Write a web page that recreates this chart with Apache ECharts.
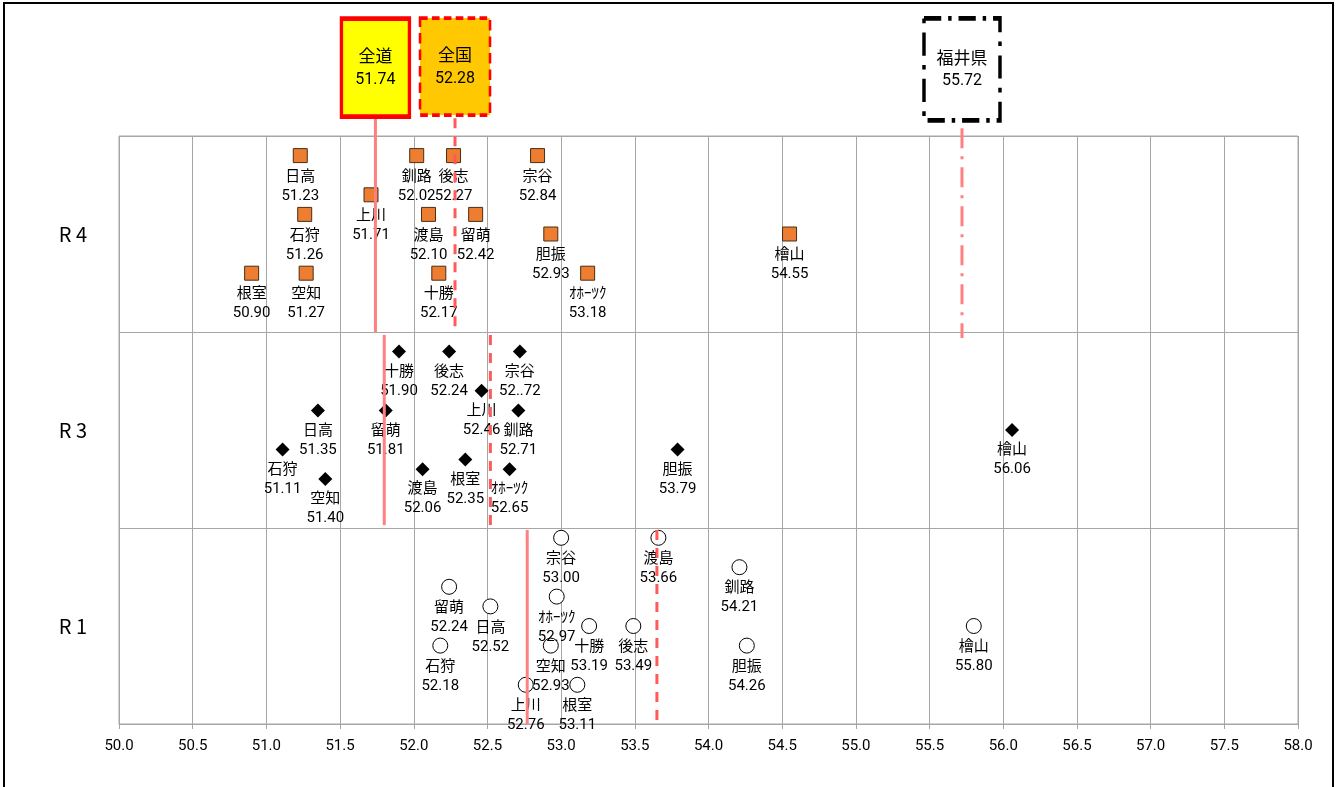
<!DOCTYPE html>
<html>
<head>
<meta charset="utf-8">
<script src="https://cdn.jsdelivr.net/npm/echarts@6/dist/echarts.min.js"></script>
<style>
  html, body { margin: 0; padding: 0; background: #fff; }
  #chart { width: 1338px; height: 787px; }
</style>
</head>
<body>
<div id="chart"></div>
<script>
// Band labels on the vertical axis (bottom to top)
const bandLabels = ['R 1', 'R 3', 'R 4'];

// X axis range / tick labels
const xMin = 50.0, xMax = 58.0, xStep = 0.5;

// R4 (2022) — subprefecture scores and their vertical slot inside the band
const r4Names  = ['日高', '釧路', '後志', '宗谷', '上川', '石狩', '渡島', '留萌', '檜山', '胆振', '根室', '空知', '十勝', 'ｵﾎｰﾂｸ'];
const r4Values = [51.23, 52.02, 52.27, 52.84, 51.71, 51.26, 52.10, 52.42, 54.55, 52.93, 50.90, 51.27, 52.17, 53.18];
const r4Rows   = [2.90, 2.90, 2.90, 2.90, 2.70, 2.60, 2.60, 2.60, 2.50, 2.50, 2.30, 2.30, 2.30, 2.30];

// R3 (2021)
const r3Names  = ['十勝', '後志', '宗谷', '上川', '日高', '留萌', '釧路', '檜山', '石狩', '胆振', '根室', '渡島', 'ｵﾎｰﾂｸ', '空知'];
const r3Values = [51.90, 52.24, 52.72, 52.46, 51.35, 51.81, 52.71, 56.06, 51.11, 53.79, 52.35, 52.06, 52.65, 51.40];
const r3Rows   = [1.90, 1.90, 1.90, 1.70, 1.60, 1.60, 1.60, 1.50, 1.40, 1.40, 1.35, 1.30, 1.30, 1.25];
const r3ValueText = { '宗谷': '52..72' };

// R1 (2019)
const r1Names  = ['宗谷', '渡島', '釧路', '留萌', 'ｵﾎｰﾂｸ', '日高', '十勝', '後志', '檜山', '石狩', '空知', '胆振', '上川', '根室'];
const r1Values = [53.00, 53.66, 54.21, 52.24, 52.97, 52.52, 53.19, 53.49, 55.80, 52.18, 52.93, 54.26, 52.76, 53.11];
const r1Rows   = [0.95, 0.95, 0.80, 0.70, 0.65, 0.60, 0.50, 0.50, 0.50, 0.40, 0.40, 0.40, 0.20, 0.20];

// Reference averages per year: Hokkaido (全道) and national (全国)
const hokkaidoAvg = { R4: 51.74, R3: 51.80, R1: 52.77 };
const nationalAvg = { R4: 52.28, R3: 52.52, R1: 53.65 };
const fukuiValue = 55.72;

const FONT = '"Noto Sans CJK JP", "Noto Sans", sans-serif';
const NUM_FONT = 'Roboto, "Noto Sans CJK JP", sans-serif';

function points(names, values, rows) {
  return names.map((n, i) => ({ name: n, value: [values[i], rows[i]] }));
}

function pointLabel(distance, overrides) {
  return {
    show: true,
    position: 'bottom',
    distance: distance,
    fontFamily: FONT,
    color: '#000',
    formatter: p => {
      const txt = (overrides && overrides[p.name]) || p.value[0].toFixed(2);
      return '{n|' + p.name + '}\n{v|' + txt + '}';
    },
    rich: {
      n: { fontSize: 15, lineHeight: 21, fontFamily: FONT, color: '#000' },
      v: { fontSize: 15, lineHeight: 21, fontFamily: NUM_FONT, color: '#000' }
    }
  };
}

function vLine(x, yTop, yBottom, color, type, width) {
  return {
    type: 'line',
    yAxisIndex: 1,
    clip: false,
    silent: true,
    symbol: 'none',
    z: 5,
    lineStyle: { color: color, type: type, width: width || 3, opacity: 1 },
    data: [[x, yTop], [x, yBottom]]
  };
}

function box(name, value, y, fill, border, borderType, borderWidth, size) {
  return {
    type: 'scatter',
    yAxisIndex: 1,
    clip: false,
    silent: true,
    z: 6,
    symbol: 'rect',
    symbolSize: size,
    itemStyle: { color: fill, opacity: 1, borderColor: border, borderWidth: borderWidth, borderType: borderType },
    label: {
      show: true,
      position: 'inside',
      formatter: '{n|' + name + '}\n{v|' + value.toFixed(2) + '}',
      rich: {
        n: { fontSize: 17, lineHeight: 24, fontFamily: FONT, color: '#000' },
        v: { fontSize: 16, lineHeight: 24, fontFamily: NUM_FONT, color: '#000' }
      }
    },
    data: [[value, y]]
  };
}

const solidRed = '#FF8080';
const dashRed = '#FF5A5A';

const option = {
  animation: false,
  backgroundColor: '#fff',
  grid: {
    left: 119, right: 40, top: 136, bottom: 63,
    show: true, borderColor: '#A6A6A6', borderWidth: 1
  },
  xAxis: {
    type: 'value',
    min: xMin, max: xMax, interval: xStep,
    axisLine: { show: true, lineStyle: { color: '#A6A6A6' } },
    axisTick: { show: true, length: 5, lineStyle: { color: '#A6A6A6' } },
    axisLabel: {
      color: '#000', fontSize: 15, fontFamily: NUM_FONT, margin: 15,
      formatter: v => v.toFixed(1)
    },
    splitLine: { show: true, lineStyle: { color: '#A6A6A6', width: 1 } }
  },
  yAxis: [
    {
      type: 'category',
      data: bandLabels,
      boundaryGap: true,
      axisLine: { show: false },
      axisTick: { show: false },
      axisLabel: { color: '#000', fontSize: 20, fontFamily: FONT, margin: 32 },
      splitLine: { show: true, lineStyle: { color: '#A6A6A6', width: 1 } }
    },
    {
      type: 'value',
      min: 0, max: 3,
      show: false,
      splitLine: { show: false }
    }
  ],
  graphic: [
    {
      type: 'rect',
      shape: { x: 4, y: 3, width: 1329, height: 800 },
      style: { fill: 'none', stroke: '#000', lineWidth: 2 },
      silent: true
    }
  ],
  series: [
    {
      type: 'scatter', yAxisIndex: 1, z: 3,
      symbol: 'rect', symbolSize: 14,
      itemStyle: { color: '#ED7D31', opacity: 1, borderColor: '#4A2E14', borderWidth: 1 },
      label: pointLabel(1.5),
      data: points(r4Names, r4Values, r4Rows)
    },
    {
      type: 'scatter', yAxisIndex: 1, z: 3,
      symbol: 'diamond', symbolSize: 14,
      itemStyle: { color: '#000', opacity: 1 },
      label: pointLabel(1, r3ValueText),
      data: points(r3Names, r3Values, r3Rows)
    },
    {
      type: 'scatter', yAxisIndex: 1, z: 3,
      symbol: 'circle', symbolSize: 15,
      itemStyle: { color: '#fff', opacity: 1, borderColor: '#000', borderWidth: 1 },
      label: pointLabel(1),
      data: points(r1Names, r1Values, r1Rows)
    },
    vLine(hokkaidoAvg.R4, 3.09, 2.0, solidRed, 'solid'),
    vLine(nationalAvg.R4, 3.09, 2.0, dashRed, [10, 8]),
    vLine(hokkaidoAvg.R3, 1.985, 1.015, solidRed, 'solid'),
    vLine(nationalAvg.R3, 1.985, 1.0, dashRed, [10, 8]),
    vLine(hokkaidoAvg.R1, 0.99, 0.0, solidRed, 'solid'),
    vLine(nationalAvg.R1, 0.99, 0.0, dashRed, [10, 8]),
    vLine(fukuiValue, 3.04, 1.97, solidRed, [20, 8, 3, 8]),
    box('全道', hokkaidoAvg.R4, 3.349, '#FFFF00', '#FF0000', 'solid', 4, [68, 98]),
    box('全国', nationalAvg.R4, 3.354, '#FFC800', '#FF0000', [9, 5], 3, [70, 97]),
    box('福井県', fukuiValue, 3.34, '#FFFFFF', '#000000', [20, 8, 4, 8], 4, [76, 102])
  ]
};

const chart = echarts.init(document.getElementById('chart'), null, { renderer: 'canvas' });
chart.setOption(option);
</script>
</body>
</html>
